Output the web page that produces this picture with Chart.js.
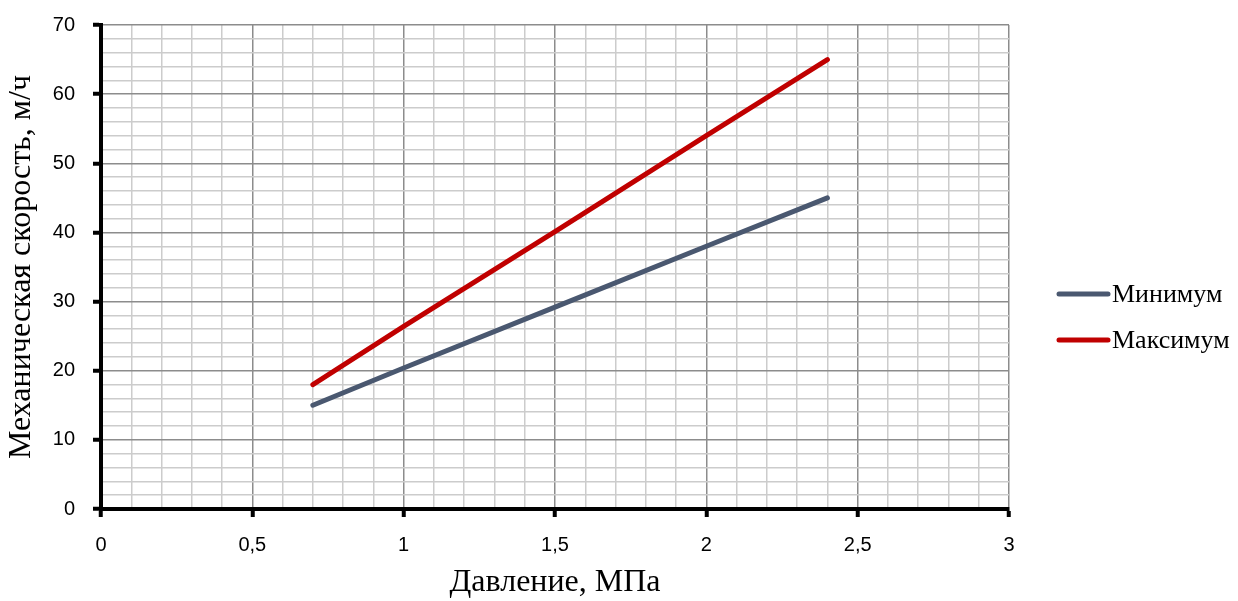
<!DOCTYPE html>
<html>
<head>
<meta charset="utf-8">
<script src="https://cdn.jsdelivr.net/npm/chart.js@4"></script>
<style>
html,body{margin:0;padding:0;background:#fff;}
#wrap{width:1238px;height:601px;position:relative;}
</style>
</head>
<body>
<div id="wrap"><canvas id="c" width="1238" height="601"></canvas></div>
<script>
const pressure = [0.7, 1, 1.5, 2, 2.4];
const minSpeed = [15, 20.4, 29.2, 38, 45];
const maxSpeed = [18, 26.4, 40.1, 54, 65];
const seriesNames = ['Минимум', 'Максимум'];
const seriesColors = ['#4a5870', '#c00000'];
const xTitle = 'Давление, МПа';
const yTitle = 'Механическая скорость, м/ч';

const toPts = (xs, ys) => xs.map((x, i) => ({x: x, y: ys[i]}));

const legendPlugin = {
  id: 'sideLegend',
  afterDraw(chart) {
    const ctx = chart.ctx;
    const ds = chart.data.datasets;
    const startY = 294, gap = 46;
    ctx.save();
    ds.forEach((d, i) => {
      const y = startY + i * gap;
      ctx.strokeStyle = d.borderColor;
      ctx.lineWidth = 5;
      ctx.lineCap = 'round';
      ctx.beginPath();
      ctx.moveTo(1059, y);
      ctx.lineTo(1108, y);
      ctx.stroke();
      ctx.fillStyle = '#000';
      ctx.font = '26px "Liberation Serif"';
      ctx.textBaseline = 'middle';
      ctx.textAlign = 'left';
      ctx.fillText(d.label, 1112, y + 1);
    });
    ctx.restore();
  }
};

const isMajorX = v => Math.abs(Math.round(v * 10) % 5) === 0;
const isMajorY = v => Math.round(v) % 10 === 0;

new Chart(document.getElementById('c'), {
  type: 'line',
  data: {
    datasets: [
      {label: seriesNames[0], data: toPts(pressure, minSpeed), borderColor: seriesColors[0], backgroundColor: seriesColors[0], borderWidth: 5, pointRadius: 0, borderCapStyle: 'round', tension: 0},
      {label: seriesNames[1], data: toPts(pressure, maxSpeed), borderColor: seriesColors[1], backgroundColor: seriesColors[1], borderWidth: 5, pointRadius: 0, borderCapStyle: 'round', tension: 0}
    ]
  },
  plugins: [legendPlugin],
  options: {
    responsive: false,
    animation: false,
    layout: {padding: {left: 0, top: 25, right: 229, bottom: 0}},
    plugins: {legend: {display: false}, tooltip: {enabled: false}},
    scales: {
      x: {
        type: 'linear', min: 0, max: 3,
        afterFit(s) { s.height = 92; s.paddingLeft = 0; s.paddingRight = 0; },
        afterBuildTicks(s) { const t = []; for (let i = 0; i <= 30; i++) t.push({value: i / 10}); s.ticks = t; },
        ticks: {
          autoSkip: false, maxRotation: 0,
          color: '#000', font: {family: '"Liberation Sans"', size: 20},
          padding: 16,
          callback: v => isMajorX(v) ? String(Math.round(v * 10) / 10).replace('.', ',') : ''
        },
        grid: {
          color: c => (c.tick && isMajorX(c.tick.value)) ? '#8c8c8c' : '#cccccc',
          lineWidth: 1.5,
          tickLength: 8,
          tickColor: c => (c.tick && isMajorX(c.tick.value)) ? '#000' : 'rgba(0,0,0,0)',
          tickWidth: 4
        },
        border: {color: '#000', width: 4},
        title: {display: true, text: xTitle, color: '#000', font: {family: '"Liberation Serif"', size: 32, lineHeight: 1}, padding: {top: 0, bottom: 2}}
      },
      y: {
        min: 0, max: 70,
        afterFit(s) { s.width = 101; s.paddingTop = 0; s.paddingBottom = 0; },
        afterBuildTicks(s) { const t = []; for (let i = 0; i <= 70; i += 2) t.push({value: i}); s.ticks = t; },
        ticks: {
          autoSkip: false,
          color: '#000', font: {family: '"Liberation Sans"', size: 20},
          padding: 18,
          callback: v => isMajorY(v) ? String(v) : ''
        },
        grid: {
          color: c => (c.tick && isMajorY(c.tick.value)) ? '#8c8c8c' : '#cccccc',
          lineWidth: 1.5,
          tickLength: 8,
          tickColor: c => (c.tick && isMajorY(c.tick.value)) ? '#000' : 'rgba(0,0,0,0)',
          tickWidth: 4
        },
        border: {color: '#000', width: 4},
        title: {display: true, text: yTitle, color: '#000', font: {family: '"Liberation Serif"', size: 32, lineHeight: 1}, padding: {top: 6, bottom: 0}}
      }
    }
  }
});
</script>
</body>
</html>
